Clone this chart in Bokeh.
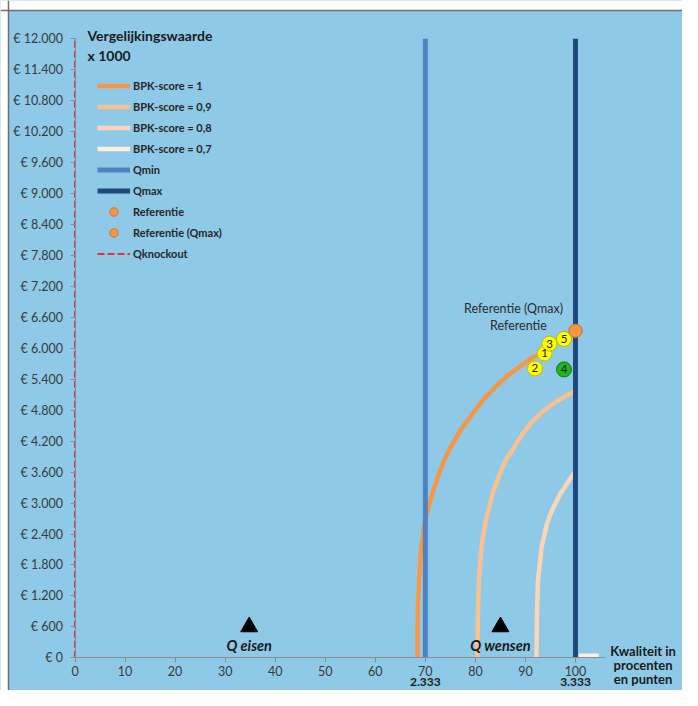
from bokeh.plotting import figure
from bokeh.models import FixedTicker, Label, Legend, LegendItem, BoxAnnotation, Span
from bokeh.core.properties import value
from bokeh.embed import file_html
from bokeh.resources import INLINE

# ---------------- data ----------------
y_ticks = [0, 600, 1200, 1800, 2400, 3000, 3600, 4200, 4800, 5400, 6000,
           6600, 7200, 7800, 8400, 9000, 9600, 10200, 10800, 11400, 12000]
y_tick_labels = ["€ 0", "€ 600", "€ 1.200", "€ 1.800", "€ 2.400", "€ 3.000",
                 "€ 3.600", "€ 4.200", "€ 4.800", "€ 5.400", "€ 6.000",
                 "€ 6.600", "€ 7.200", "€ 7.800", "€ 8.400", "€ 9.000",
                 "€ 9.600", "€ 10.200", "€ 10.800", "€ 11.400", "€ 12.000"]
x_ticks = [0, 10, 20, 30, 40, 50, 60, 70, 80, 90, 100]
score_ticks_x = [70, 100]
score_tick_labels = ["2.333", "3.333"]

bpk_1_x = [68.4, 68.5, 69.0, 69.7, 70.6, 72.0, 73.2, 74.7, 77.0, 79.4, 81.7,
           84.0, 86.4, 88.7, 91.0, 92.7, 94.0]
bpk_1_y = [0, 980, 1950, 2530, 2920, 3370, 3700, 4020, 4410, 4730, 5020,
           5250, 5470, 5630, 5800, 5890, 5960]
bpk_09_x = [80.4, 80.5, 80.7, 81.2, 81.7, 82.4, 83.4, 84.7, 86.0, 87.7, 89.4,
            91.3, 93.3, 96.3, 99.3, 100.0]
bpk_09_y = [0, 850, 1490, 2140, 2460, 2790, 3170, 3530, 3820, 4080, 4340,
            4570, 4760, 4980, 5140, 5180]
bpk_08_x = [92.2, 92.3, 92.5, 93.2, 94.3, 95.3, 97.0, 99.3, 100.0]
bpk_08_y = [0, 850, 1500, 2140, 2600, 2860, 3180, 3530, 3600]
bpk_07_x = [100.6, 104.6]
bpk_07_y = [40, 40]

q_min = 70
q_max = 100
q_knockout = 0
y_top = 12000

ref_x = [100]
ref_y = [6340]
ref_qmax_x = [100]
ref_qmax_y = [6340]

offer_labels = ["1", "2", "3", "4", "5"]
offer_x = [93.8, 91.9, 94.8, 97.7, 97.7]
offer_y = [5900, 5610, 6090, 5590, 6180]

req_labels = ["Q eisen", "Q wensen"]
req_x = [34.8, 85.0]
req_y = [600, 600]

# ---------------- styles ----------------
BG = "#8ECAE8"
FONT = "Lato"
offer_fill = ["#FFFF00", "#FFFF00", "#FFFF00", "#1FB51F", "#FFFF00"]
offer_line = ["#BDBD00", "#BDBD00", "#BDBD00", "#0A7A0A", "#BDBD00"]

W, H = 682, 690
PX_X = 5.005          # pixels per x unit
PX_Y = 619 / 12000.0  # pixels per y unit
X0, Y0 = 74.5, 657.3  # pixel position of the origin
x_start = -X0 / PX_X
x_end = (W - X0) / PX_X
y_end = Y0 / PX_Y
y_start = -(H - Y0) / PX_Y

p = figure(width=W, height=H, output_backend="svg", toolbar_location=None,
           x_range=(x_start, x_end), y_range=(y_start, y_end), min_border=0)
p.background_fill_color = BG
p.border_fill_color = BG
p.outline_line_color = None
p.xgrid.visible = False
p.ygrid.visible = False

# chart border (outer area of the original picture)
p.add_layout(BoxAnnotation(right=(8 - X0) / PX_X, fill_color="white", fill_alpha=1,
                           line_color=None))
p.add_layout(BoxAnnotation(bottom=(Y0 - 10) / PX_Y, fill_color="white", fill_alpha=1,
                           line_color=None))
p.add_layout(Span(location=(8 - X0) / PX_X, dimension="height",
                  line_color="#6F6F6F", line_width=1.5))
p.add_layout(Span(location=(Y0 - 10) / PX_Y, dimension="width",
                  line_color="#6F6F6F", line_width=1.5))

# axes
p.yaxis.ticker = FixedTicker(ticks=y_ticks)
p.yaxis.major_label_overrides = {t: l for t, l in zip(y_ticks, y_tick_labels)}
p.xaxis.ticker = FixedTicker(ticks=x_ticks)
p.xaxis.fixed_location = 0
p.yaxis.fixed_location = 0
p.xaxis.bounds = (0, 106)
p.yaxis.bounds = (0, 12000)
for ax in (p.xaxis, p.yaxis):
    ax.axis_line_color = "#8C8C8C"
    ax.major_tick_line_color = "#8C8C8C"
    ax.major_tick_in = 0
    ax.major_tick_out = 5
    ax.minor_tick_line_color = None
    ax.major_label_text_font = FONT
    ax.major_label_text_font_size = "12.5px"
    ax.major_label_text_color = "#3A3A3A"
p.xaxis.major_label_standoff = 3
p.yaxis.major_label_standoff = 7

# lines
r_b1 = p.line(bpk_1_x, bpk_1_y, line_color="#F79646", line_width=4.5)
r_b09 = p.line(bpk_09_x, bpk_09_y, line_color="#FAC090", line_width=4.5)
r_b08 = p.line(bpk_08_x, bpk_08_y, line_color="#FCD5B5", line_width=4.5)
r_b07 = p.line(bpk_07_x, bpk_07_y, line_color="#FDEEE4", line_width=4.5)
r_qmin = p.line([q_min, q_min], [0, y_top], line_color="#4F81BD", line_width=5)
r_qmax = p.line([q_max, q_max], [0, y_top], line_color="#1F497D", line_width=5)
r_ko = p.line([q_knockout, q_knockout], [0, y_top], line_color="#FF0000",
              line_width=1.5, line_dash="7 3")

r_ref = p.scatter(ref_x, ref_y, size=13, fill_color="#F79646", line_color="#E0701C")
r_refq = p.scatter(ref_qmax_x, ref_qmax_y, size=13, fill_color="#F79646",
                   line_color="#E0701C")

# offers
p.scatter(offer_x, offer_y, size=15, fill_color=offer_fill, line_color=offer_line,
          line_width=1)
p.text(offer_x, offer_y, text=offer_labels, text_align="center",
       text_baseline="middle", text_font=value(FONT), text_font_size="11.5px",
       text_color="#1A1A1A")

# requirement markers
p.scatter(req_x, req_y, marker="triangle", size=17, fill_color="black",
          line_color="black")
p.text(req_x, req_y, text=req_labels, text_align="center", text_baseline="middle",
       y_offset=19, text_font=value(FONT), text_font_size="14.5px",
       text_font_style="bold italic", text_color="#1A1A1A")

# reference labels
p.text(ref_qmax_x, ref_qmax_y, text=["Referentie (Qmax)"], text_align="center",
       text_baseline="middle", x_offset=-62, y_offset=-22, text_font=value(FONT),
       text_font_size="12.5px", text_color="#2A2A2A")
p.text(ref_x, ref_y, text=["Referentie"], text_align="center",
       text_baseline="middle", x_offset=-57, y_offset=-5, text_font=value(FONT),
       text_font_size="12.5px", text_color="#2A2A2A")

# legend
items = [
    LegendItem(label="BPK-score = 1", renderers=[r_b1]),
    LegendItem(label="BPK-score = 0,9", renderers=[r_b09]),
    LegendItem(label="BPK-score = 0,8", renderers=[r_b08]),
    LegendItem(label="BPK-score = 0,7", renderers=[r_b07]),
    LegendItem(label="Qmin", renderers=[r_qmin]),
    LegendItem(label="Qmax", renderers=[r_qmax]),
    LegendItem(label="Referentie", renderers=[r_ref]),
    LegendItem(label="Referentie (Qmax)", renderers=[r_refq]),
    LegendItem(label="Qknockout", renderers=[r_ko]),
]
legend = Legend(items=items, location=(97, 426), glyph_width=33, glyph_height=21,
                label_height=21, spacing=0, padding=0, margin=0, label_standoff=3,
                label_text_font=FONT, label_text_font_size="11px",
                label_text_font_style="bold", label_text_color="#262626",
                background_fill_alpha=0, border_line_color=None)
p.add_layout(legend)

# titles / extra texts
def lab(x, y, text, size, style="bold", align="left"):
    p.add_layout(Label(x=x, y=y, text=text, text_font=FONT, text_font_size=size,
                       text_font_style=style, text_align=align,
                       text_baseline="middle", text_color="#1A1A1A"))

lab(2.5, 12064, "Vergelijkingswaarde", "14px")
lab(2.5, 11677, "x 1000", "14px")
for sx, st in zip(score_ticks_x, score_tick_labels):
    lab(sx, -((681 - Y0) / PX_Y), st, "12px", align="center")
lab(113.5, (Y0 - 650) / PX_Y, "Kwaliteit in", "13px", align="center")
lab(113.5, (Y0 - 664) / PX_Y, "procenten", "13px", align="center")
lab(113.5, (Y0 - 678) / PX_Y, "en punten", "13px", align="center")

open("out.html", "w").write(file_html(p, INLINE))
